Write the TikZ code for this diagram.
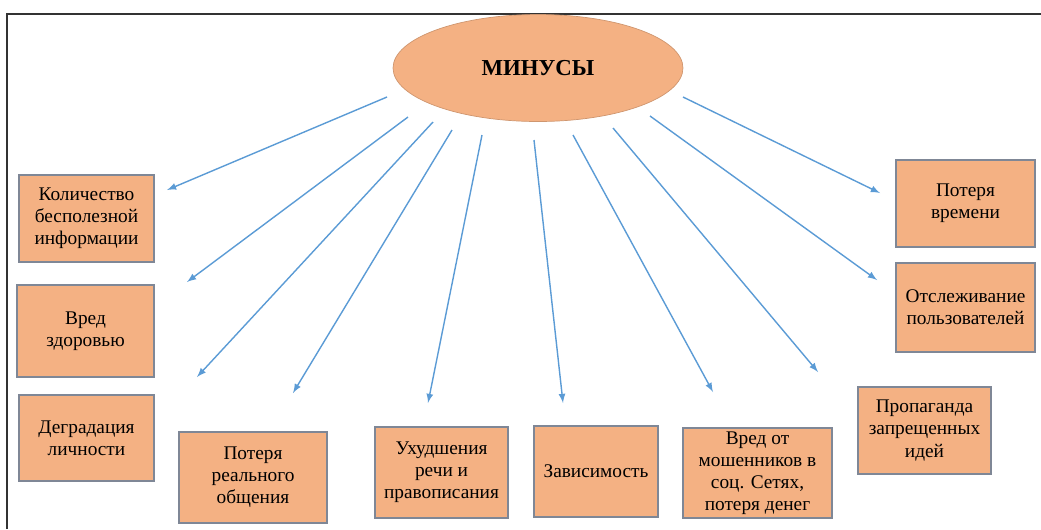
\documentclass[tikz,border=0pt]{standalone}
\usepackage{fontspec}
\setmainfont{Liberation Serif}
\usepackage{tikz}
\usetikzlibrary{shapes.geometric}

\definecolor{boxfill}{HTML}{F4B183}
\definecolor{boxline}{HTML}{7F8796}
\definecolor{arrowblue}{HTML}{5B9BD5}

\tikzset{
  box/.style={draw=boxline, line width=0.9pt, fill=boxfill, align=center,
    inner sep=1pt, font=\fontsize{11}{12.6}\selectfont},
  arr/.style={-latex, draw=arrowblue, line width=0.8pt}
}

\begin{document}
\begin{tikzpicture}[x=0.02cm, y=-0.02cm]
  \useasboundingbox (0,0) rectangle (1041,529);
  % frame
  \draw[line width=1.2pt, black!80] (7,529) -- (7,14) -- (1041,14);

  \node[ellipse, fill=boxfill, draw=boxfill!85!black, line width=0.4pt,
    minimum width=5.8cm, minimum height=2.14cm, inner sep=0pt,
    font=\fontsize{13}{15}\selectfont\bfseries] (minus) at (538,68) {МИНУСЫ};

  \node[box, minimum width=2.7cm, minimum height=1.74cm] (b1) at (86.5,218.5)
    {Количество\\бесполезной\\информации};
  \node[box, minimum width=2.74cm, minimum height=1.84cm] (b2) at (85.5,331)
    {Вред\\здоровью};
  \node[box, minimum width=2.7cm, minimum height=1.72cm] (b3) at (86.5,438)
    {Деградация\\личности};
  \node[box, minimum width=2.96cm, minimum height=1.82cm] (b4) at (253,477.5)
    {Потеря\\реального\\общения};
  \node[box, minimum width=2.66cm, minimum height=1.82cm] (b5) at (441.5,472.5)
    {Ухудшения\\речи и\\правописания};
  \node[box, minimum width=2.48cm, minimum height=1.82cm] (b6) at (596,471.5)
    {Зависимость};
  \node[box, minimum width=2.98cm, minimum height=1.8cm] (b7) at (757.5,473)
    {Вред от\\мошенников в\\соц. Сетях,\\потеря денег};
  \node[box, minimum width=2.66cm, minimum height=1.74cm] (b8) at (924.5,430.5)
    {Пропаганда\\запрещенных\\идей};
  \node[box, minimum width=2.78cm, minimum height=1.78cm] (b9) at (965.5,307.5)
    {Отслеживание\\пользователей};
  \node[box, minimum width=2.78cm, minimum height=1.74cm] (b10) at (965.5,203.5)
    {Потеря\\времени};

  % arrows from the ellipse towards the boxes
  \foreach \i/\sx/\sy/\tx/\ty in {1/387/97/167/190, 2/408/117/187/282,
      3/433/122/197/377, 4/452/130/293/393, 5/482/135/428/403,
      6/534/140/563/403, 7/573/135/713/392, 8/613/128/818/372,
      9/650/116/877/280, 10/683/97/880/193} {
    \coordinate (s\i) at (\sx,\sy);
    \coordinate (t\i) at (\tx,\ty);
    \draw[arr] (s\i) -- (t\i);
  }
\end{tikzpicture}
\end{document}
